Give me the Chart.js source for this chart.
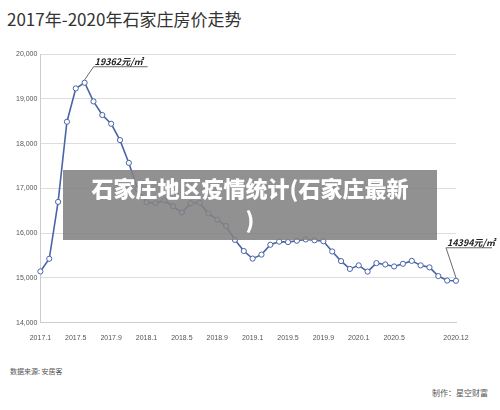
<!DOCTYPE html>
<html><head><meta charset="utf-8">
<script src="https://cdn.jsdelivr.net/npm/chart.js@4"></script>
<style>
body{margin:0;width:500px;height:410px;background:#fff;font-family:"Noto Sans CJK SC","Noto Sans",sans-serif;position:relative;overflow:hidden}
#t{position:absolute;left:7px;top:6px;font-size:17px;color:#333}
#w{position:absolute;left:0;top:47px;width:500px;height:298px}
#ov{position:absolute;left:63px;top:170px;width:374px;height:70px;background:rgba(130,130,130,0.88);color:#fff;font-weight:900;font-size:22px;line-height:31px;text-align:center;padding-top:2px;box-sizing:border-box}
#src{position:absolute;left:10px;top:366px;font-size:7px;color:#555}
#mk{position:absolute;right:12px;top:387px;font-size:8px;color:#555}
</style></head><body>
<div id="t">2017年-2020年石家庄房价走势</div>
<div id="w"><canvas id="c"></canvas></div>
<div id="ov">石家庄地区疫情统计(石家庄最新<br>)</div>
<div id="src">数据来源: 安居客</div>
<div id="mk">制作：星空财富</div>
<script>
const months=[];for(let y=2017;y<=2020;y++)for(let m=1;m<=12;m++)months.push(y+'.'+m);
const prices=[15144,15427,16699,18490,19235,19362,18945,18640,18445,18080,17570,16980,16690,16670,16730,16600,16460,16670,16680,16440,16300,16160,15850,15600,15430,15520,15740,15810,15800,15830,15860,15840,15820,15590,15375,15200,15280,15140,15330,15300,15255,15315,15380,15280,15235,15040,14940,14935];
const notes=[{i:5,text:'19362元/㎡',dx:9,dy:-16,lx:54},{i:47,text:'14394元/㎡',dx:-10,dy:-33,lx:46}];
const annot={id:'annot',afterDatasetsDraw(ch){const c=ch.ctx,x=ch.scales.x,y=ch.scales.y;c.save();c.strokeStyle='#444';c.lineWidth=0.8;c.fillStyle='#222';c.font='italic bold 9px "Noto Sans CJK SC"';
notes.forEach(n=>{const px=x.getPixelForValue(n.i),py=y.getPixelForValue(prices[n.i]);const ax=px+n.dx,ay=py+n.dy;c.beginPath();c.moveTo(px,py-3);c.lineTo(ax,ay);c.lineTo(ax+n.lx,ay);c.stroke();c.fillText(n.text,ax+1,ay-2);});c.restore();}};
new Chart(document.getElementById('c'),{type:'line',data:{labels:months,datasets:[{data:prices,borderColor:'#4a64a8',borderWidth:1.6,pointRadius:2.6,pointBackgroundColor:'#fff',pointBorderColor:'#4a64a8',pointBorderWidth:1,tension:0}]},
options:{responsive:true,maintainAspectRatio:false,animation:false,layout:{padding:{top:6,right:44,left:13}},plugins:{legend:{display:false},tooltip:{enabled:false}},
scales:{y:{min:14000,max:20000,ticks:{stepSize:1000,color:'#555',font:{size:7}},grid:{color:'#ddd',borderDash:[2,2],drawTicks:false},border:{display:true,color:'#ccc'}},
x:{grid:{display:false},border:{color:'#ccc'},ticks:{autoSkip:false,maxRotation:0,color:'#555',font:{size:7},callback:(v,i)=>((i%4===0&&i<=40)||i===47)?months[i]:''}}}},plugins:[annot]});
</script></body></html>
